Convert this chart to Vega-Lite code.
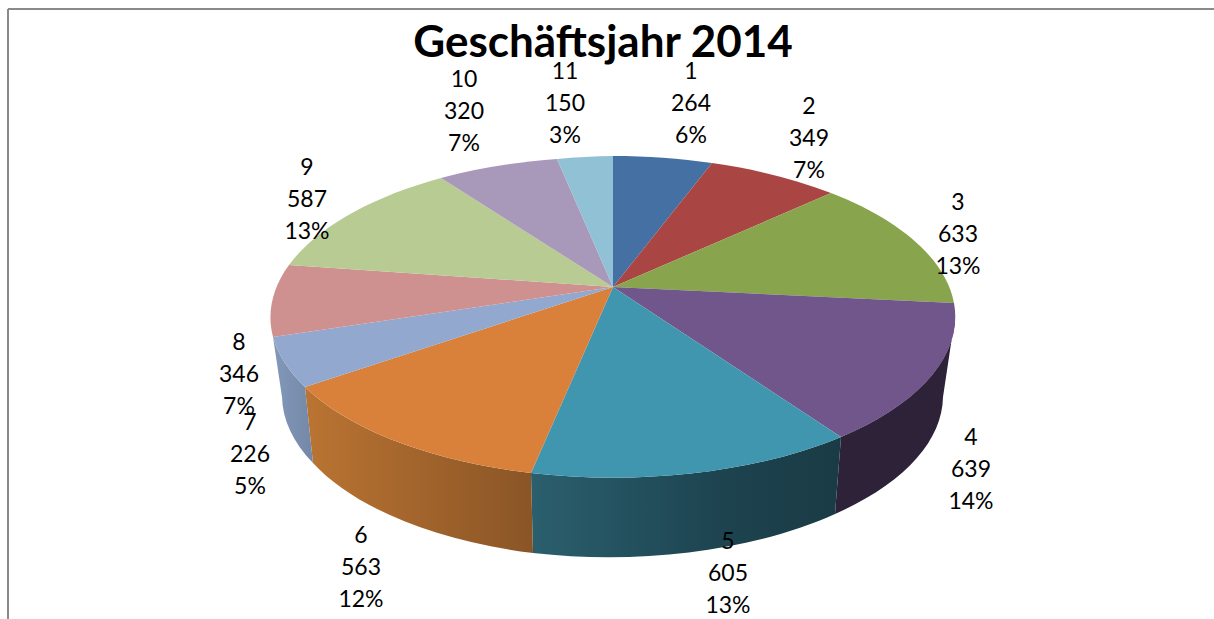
{"$schema":"https://vega.github.io/schema/vega-lite/v6.json","width":1206,"height":610,"padding":{"left":8,"top":9,"right":0,"bottom":0},"autosize":{"type":"none"},"background":"#ffffff","config":{"view":{"stroke":null}},"data":{"values":[{"segment":1,"value":264,"share":"6%"},{"segment":2,"value":349,"share":"7%"},{"segment":3,"value":633,"share":"13%"},{"segment":4,"value":639,"share":"14%"},{"segment":5,"value":605,"share":"13%"},{"segment":6,"value":563,"share":"12%"},{"segment":7,"value":226,"share":"5%"},{"segment":8,"value":346,"share":"7%"},{"segment":9,"value":587,"share":"13%"},{"segment":10,"value":320,"share":"7%"},{"segment":11,"value":150,"share":"3%"}]},"resolve":{"scale":{"shape":"independent","fill":"independent","x":"independent","y":"independent"}},"layer":[{"mark":{"type":"rule","stroke":"#8a8a8a","strokeWidth":1.6},"encoding":{"y":{"value":0}}},{"mark":{"type":"rule","stroke":"#8a8a8a","strokeWidth":1.6},"encoding":{"x":{"value":0}}},{"transform":[{"filter":"datum.segment == 4"}],"mark":{"type":"point","filled":true,"opacity":1,"size":4,"strokeWidth":0,"shape":"M344,3 A342,161 0 0 1 230,123 L224,200 A331,160 0 0 0 332,83 Z","fill":"#2d2238"},"encoding":{}},{"transform":[{"filter":"datum.segment == 5"}],"mark":{"type":"point","filled":true,"opacity":1,"size":4,"strokeWidth":0,"shape":"M230,123 A342,161 0 0 1 -80,159 L-78,239 A331,160 0 0 0 224,200 Z","fill":{"gradient":"linear","x1":0,"y1":0,"x2":1,"y2":0,"stops":[{"offset":0,"color":"#2b5f6e"},{"offset":0.6,"color":"#1d4450"},{"offset":1,"color":"#1a3b45"}]}},"encoding":{}},{"transform":[{"filter":"datum.segment == 6"}],"mark":{"type":"point","filled":true,"opacity":1,"size":4,"strokeWidth":0,"shape":"M-80,159 A342,161 0 0 1 -306,73 L-298,149 A331,160 0 0 0 -78,239 Z","fill":{"gradient":"linear","x1":1,"y1":0,"x2":0,"y2":0,"stops":[{"offset":0,"color":"#8a5526"},{"offset":1,"color":"#ba7432"}]}},"encoding":{}},{"transform":[{"filter":"datum.segment == 7"}],"mark":{"type":"point","filled":true,"opacity":1,"size":4,"strokeWidth":0,"shape":"M-306,73 A342,161 0 0 1 -338,23 L-329,83 A331,160 0 0 0 -298,149 Z","fill":{"gradient":"linear","x1":0,"y1":0,"x2":1,"y2":0,"stops":[{"offset":0,"color":"#8299bb"},{"offset":1,"color":"#7587a6"}]}},"encoding":{}},{"mark":{"type":"point","filled":true,"opacity":1,"size":4,"strokeWidth":0},"encoding":{"shape":{"field":"segment","type":"nominal","legend":null,"scale":{"domain":[1,2,3,4,5,6,7,8,9,10,11],"range":["M2,-27 L2,-158 A342,161 0 0 1 101,-151 Z","M2,-27 L101,-151 A342,161 0 0 1 220,-121 Z","M2,-27 L220,-121 A342,161 0 0 1 343,-11 Z","M2,-27 L343,-11 A342,161 0 0 1 230,123 Z","M2,-27 L230,123 A342,161 0 0 1 -80,159 Z","M2,-27 L-80,159 A342,161 0 0 1 -306,73 Z","M2,-27 L-306,73 A342,161 0 0 1 -338,23 Z","M2,-27 L-338,23 A342,161 0 0 1 -322,-49 Z","M2,-27 L-322,-49 A342,161 0 0 1 -170,-136 Z","M2,-27 L-170,-136 A342,161 0 0 1 -54,-155 Z","M2,-27 L-54,-155 A342,161 0 0 1 2,-158 Z"]}},"fill":{"field":"segment","type":"nominal","legend":null,"scale":{"domain":[1,2,3,4,5,6,7,8,9,10,11],"range":["#4570a4","#a94543","#88a44d","#71568c","#4096ae","#d9813b","#92a8ce","#cf9190","#b7cb93","#a899bb","#91c1d4"]}}}},{"transform":[{"calculate":"datum.segment + '\\n' + datum.value + '\\n' + datum.share","as":"label"}],"mark":{"type":"text","font":"Lato","fontSize":23,"lineBreak":"\n","lineHeight":32,"align":"center","baseline":"middle","color":"#000000"},"encoding":{"text":{"field":"label","type":"nominal"},"x":{"field":"segment","type":"quantitative","axis":null,"scale":{"type":"linear","zero":false,"nice":false,"domain":[1,2,3,4,5,6,7,8,9,10,11],"range":[683,801,950,963,720,353,242,231,299,456,557]}},"y":{"field":"segment","type":"quantitative","axis":null,"scale":{"type":"linear","zero":false,"nice":false,"domain":[1,2,3,4,5,6,7,8,9,10,11],"range":[63,98,194,429,533,527,414,334,159,71,63]}}}},{"data":{"values":[{"heading":"Geschäftsjahr 2014"}]},"mark":{"type":"text","font":"Lato","fontSize":44,"fontWeight":"bold","color":"#000000","align":"center","baseline":"middle","dx":-8,"dy":-270},"encoding":{"text":{"field":"heading","type":"nominal"}}}]}
